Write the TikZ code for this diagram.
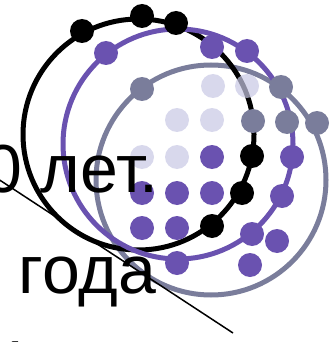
\documentclass[tikz,border=0pt]{standalone}
\usepackage{fontspec}
\setmainfont{Liberation Sans}
\definecolor{cpurple}{RGB}{106,82,176}
\definecolor{cgray}{RGB}{122,125,155}
\definecolor{clav}{RGB}{200,200,228}
\begin{document}
\begin{tikzpicture}[x=1pt,y=-1pt,
  ring/.style={line width=5pt},
  dotbase/.style={circle, inner sep=0pt, minimum size=24pt, draw=none},
  dotblack/.style={dotbase, fill=black},
  dotpurple/.style={dotbase, fill=cpurple},
  dotgray/.style={dotbase, fill=cgray},
  dotlav/.style={dotbase, fill=clav, fill opacity=0.7},
  bigtext/.style={inner sep=0pt, font=\fontsize{68}{80}\selectfont}]
\useasboundingbox (0,0) rectangle (330,342);
\clip (0,0) rectangle (330,342);
% rings
\draw[ring, cgray] (211,180) circle[radius=115];
\draw[ring, black] (138.5,134.5) circle[radius=115.5];
\draw[ring, cpurple] (178,144) circle[radius=115];
% black dots
\node[dotblack] (b1) at (82,31) {};
\node[dotblack] (b2) at (142,16) {};
\node[dotblack] (b3) at (176,23) {};
\node[dotblack] (b4) at (252,156) {};
\node[dotblack] (b5) at (242,193) {};
\node[dotblack] (b6) at (212,226) {};
% purple dots
\node[dotpurple] (p1) at (106,53) {};
\node[dotpurple] (p2) at (212,47) {};
\node[dotpurple] (p3) at (247,51) {};
\node[dotpurple] (p4) at (292,157) {};
\node[dotpurple] (p5) at (282,196) {};
\node[dotpurple] (p6) at (252,234) {};
\node[dotpurple] (p7) at (177,263) {};
\node[dotpurple] (p8) at (212,157) {};
\node[dotpurple] (p9) at (142,193) {};
\node[dotpurple] (p10) at (177,193) {};
\node[dotpurple] (p11) at (212,193) {};
\node[dotpurple] (p12) at (142,228) {};
\node[dotpurple] (p13) at (177,228) {};
\node[dotpurple] (p14) at (277,241) {};
\node[dotpurple] (p15) at (250,265) {};
% gray dots
\node[dotgray] (g1) at (142,89) {};
\node[dotgray] (g2) at (281,87) {};
\node[dotgray] (g3) at (253,121) {};
\node[dotgray] (g4) at (287,122) {};
\node[dotgray] (g5) at (317,123) {};
% lavender dots
\node[dotlav] (l1) at (213,86) {};
\node[dotlav] (l2) at (247,86) {};
\node[dotlav] (l3) at (177,120) {};
\node[dotlav] (l4) at (212,120) {};
\node[dotlav] (l5) at (142,157) {};
\node[dotlav] (l6) at (177,157) {};
% text
\node[bigtext, anchor=base east] (t1) at (159,192) {0 лет.};
\node[bigtext, anchor=base west] (t2) at (18.5,293) {года};
\node[bigtext, anchor=base west] (t3) at (-5,388) {1};
% thin line
\coordinate (la) at (-5,177);
\coordinate (lb) at (233,333);
\draw[line width=1.5pt] (la) -- (lb);
\end{tikzpicture}
\end{document}
